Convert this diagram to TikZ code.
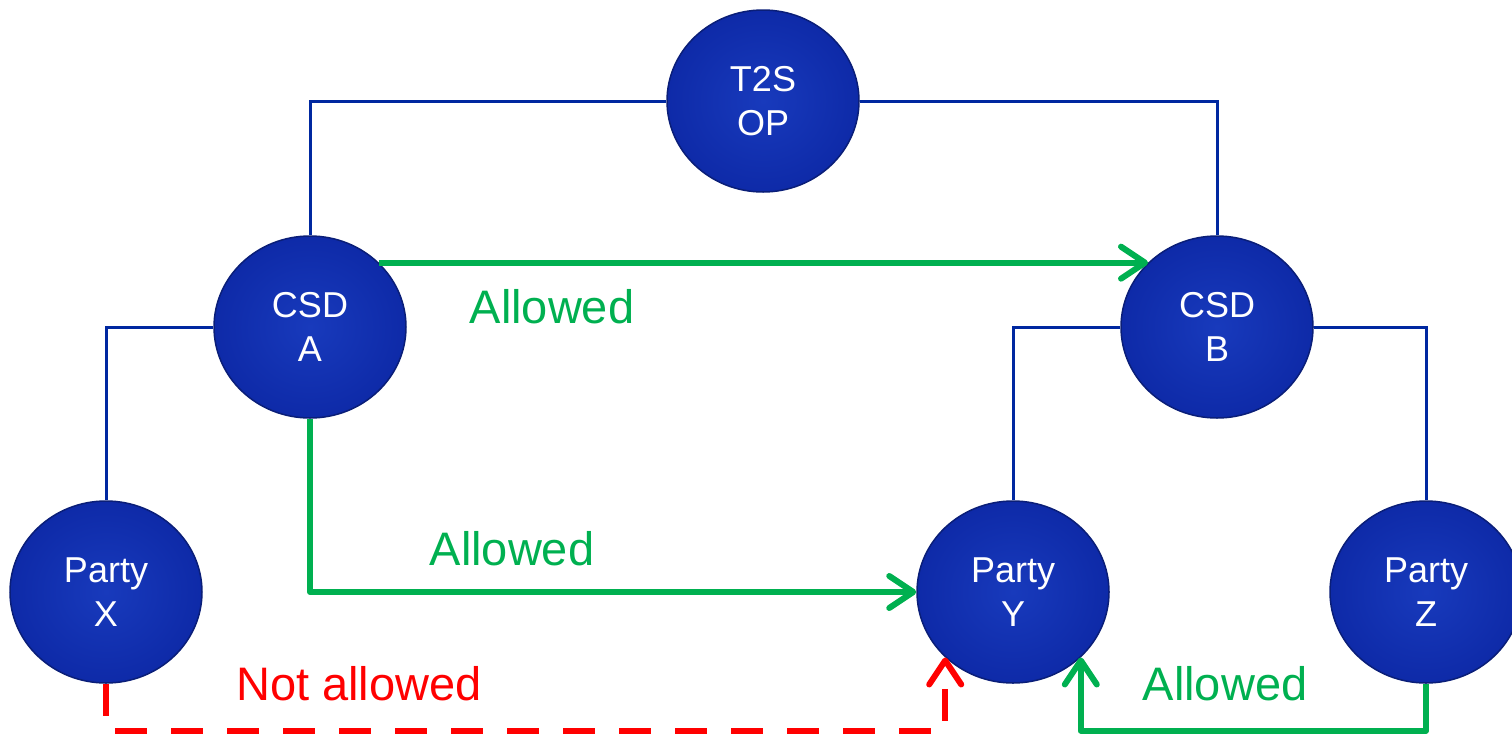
\documentclass[tikz,border=0pt]{standalone}
\usepackage{fontspec}
\setmainfont{Liberation Sans}
\usepackage{xcolor}
\usepackage{tikz}
\usetikzlibrary{shapes.geometric,arrows.meta}

\definecolor{ballin}{RGB}{24,58,188}
\definecolor{ballout}{RGB}{14,42,168}
\definecolor{ballrim}{RGB}{10,30,120}
\definecolor{wireblue}{RGB}{0,40,160}
\definecolor{okgreen}{RGB}{0,176,80}
\definecolor{nogored}{RGB}{255,0,0}

\tikzset{
  member/.style={ellipse, minimum width=192pt, minimum height=182pt, inner sep=0pt,
    draw=ballrim, line width=1.5pt, inner color=ballin, outer color=ballout,
    text=white, align=center, font=\fontsize{36}{44}\selectfont},
  wire/.style={draw=wireblue, line width=3pt},
  okflow/.style={draw=okgreen, line width=6pt, line join=round,
    -{Straight Barb[length=24pt, width=32pt, line cap=round, line join=round]}},
  noflow/.style={draw=nogored, line width=6pt, dash pattern=on 32pt off 24pt,
    -{Straight Barb[length=24pt, width=32pt, line cap=round, line join=round]}},
  flowtext/.style={anchor=base, font=\fontsize{47}{50}\selectfont}
}

\begin{document}
\begin{tikzpicture}[x=1pt, y=-1pt]
            \useasboundingbox (0,0) rectangle (1512,737);
            % nodes
            \node[member] at (763,101) (t2s) {T2S\\OP};
            \node[member] at (310,327) (csdA) {CSD\\A};
            \node[member] at (1217,327) (csdB) {CSD\\B};
            \node[member] at (106,592) (partyX) {Party\\X};
            \node[member] at (1013,592) (partyY) {Party\\Y};
            \node[member] at (1426,592) (partyZ) {Party\\Z};
            % hierarchy
            \draw[wire] (t2s.west) -| (csdA.north);
            \draw[wire] (t2s.east) -| (csdB.north);
            \draw[wire] (csdA.west) -| (partyX.north);
            \draw[wire] (csdB.west) -| (partyY.north);
            \draw[wire] (csdB.east) -| (partyZ.north);
            % flows
            \draw[okflow] (csdA.43) -- (csdB.137);
            \draw[okflow] (csdA.south) |- (partyY.west);
            \draw[okflow] (partyZ.south) -- ++(0,47) -| (partyY.-44);
            \draw[noflow] (partyX.south) -- ++(0,47) -| (partyY.-136);
            % labels
            \node[flowtext, text=okgreen] at (552,323) (okAB) {Allowed};
            \node[flowtext, text=okgreen] at (512,565) (okAY) {Allowed};
            \node[flowtext, text=okgreen] at (1225,700) (okZY) {Allowed};
            \node[flowtext, text=nogored] at (359,700) (noXY) {Not allowed};
        \end{tikzpicture}
\end{document}
